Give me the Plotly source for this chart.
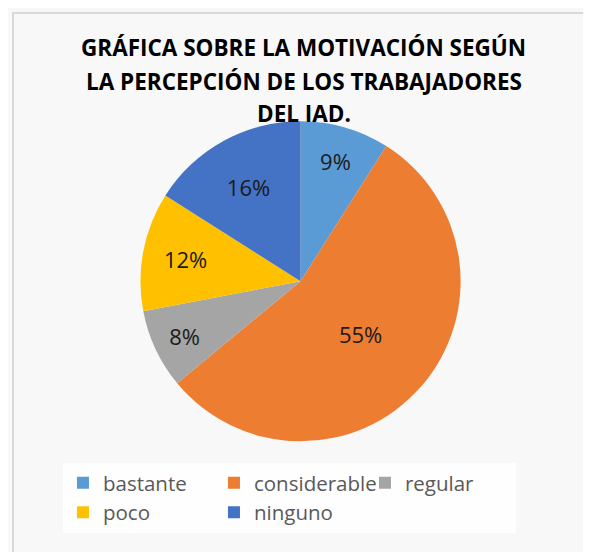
import plotly.graph_objects as go

categories = ["bastante", "considerable", "regular", "poco", "ninguno"]
values = [9, 55, 8, 12, 16]
colors = ["#5B9BD5", "#ED7D31", "#A5A5A5", "#FFC000", "#4472C4"]
title_lines = ["GRÁFICA SOBRE LA MOTIVACIÓN SEGÚN",
               "LA PERCEPCIÓN DE LOS TRABAJADORES",
               "DEL IAD."]

W, H = 591, 552

fig = go.Figure(go.Pie(
    labels=categories,
    values=values,
    sort=False,
    direction="clockwise",
    rotation=0,
    marker=dict(colors=colors, line=dict(color="#FFFFFF", width=0)),
    textinfo="percent",
    texttemplate="%{percent:.0%}",
    textposition="inside",
    insidetextorientation="horizontal",
    textfont=dict(family="Open Sans", size=22, color="#1a1a1a"),
    domain=dict(x=[0.215, 0.775], y=[0.215, 0.795]),
    hoverinfo="label+percent",
))

line_y = [40, 73, 106]
annotations = [
    dict(text=t, xref="paper", yref="paper", x=0.5, y=1 - yy / H,
         xanchor="center", yanchor="middle", showarrow=False,
         font=dict(family="Open Sans", size=22.5, color="#000000", weight="bold"))
    for t, yy in zip(title_lines, line_y)
]

fig.update_layout(
    width=W, height=H,
    margin=dict(l=0, r=0, t=0, b=0),
    paper_bgcolor="#F8F8F8",
    plot_bgcolor="#F8F8F8",
    annotations=annotations,
    showlegend=True,
    legend=dict(
        orientation="h",
        x=0.093, xanchor="left",
        y=0.176, yanchor="top",
        bgcolor="#FEFEFE",
        font=dict(family="Open Sans", size=20.5, color="#595959"),
        entrywidth=106,
        entrywidthmode="pixels",
        itemsizing="constant",
        traceorder="normal",
    ),
    shapes=[dict(type="rect", xref="paper", yref="paper",
                 x0=5 / W, x1=1.02, y0=-0.02, y1=1 - 5 / H,
                 line=dict(color="#D9D9D9", width=2), fillcolor="rgba(0,0,0,0)")],
)

fig.write_html("out.html")
